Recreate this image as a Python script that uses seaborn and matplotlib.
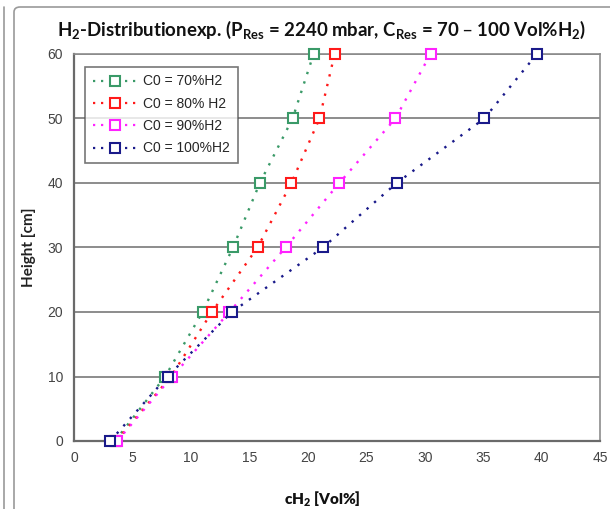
import matplotlib
matplotlib.use("Agg")
import matplotlib.pyplot as plt
import seaborn as sns
import pandas as pd
from matplotlib.patches import FancyBboxPatch
from matplotlib.lines import Line2D

height = [0, 10, 20, 30, 40, 50, 60]
c70 = [3.5, 7.8, 11.0, 13.6, 15.9, 18.7, 20.5]
c80 = [3.6, 8.3, 11.8, 15.7, 18.6, 21.0, 22.3]
c90 = [3.7, 8.4, 13.3, 18.1, 22.7, 27.5, 30.5]
c100 = [3.1, 8.0, 13.5, 21.3, 27.6, 35.1, 39.6]
labels = ["C0 = 70%H2", "C0 = 80% H2", "C0 = 90%H2", "C0 = 100%H2"]
colors = ["#3a9a68", "#ff1a1a", "#ff22ff", "#1a1a8a"]

sns.set_theme(style="white")
plt.rcParams["mathtext.default"] = "regular"

fig = plt.figure(figsize=(6.1, 5.09), dpi=100)
ax = fig.add_axes([74/610, 1-441/509, (600-74)/610, (441-54)/509])

dots = (0, (1, 3.2))
series = [c70, c80, c90, c100]
for vals, lab, col in zip(series, labels, colors):
    df = pd.DataFrame({"c": vals, "h": height})
    sns.lineplot(data=df, x="c", y="h", ax=ax, color=col, linestyle=dots,
                 linewidth=1.7, marker="s", markersize=7.5,
                 markerfacecolor="white", markeredgecolor=col,
                 markeredgewidth=1.5, label=lab, sort=False, zorder=3,
                 clip_on=False)

ax.set_xlim(0, 45)
ax.set_ylim(0, 60)
ax.set_xticks(range(0, 46, 5))
ax.set_yticks(range(0, 61, 10))
ax.yaxis.grid(True, color="#8c8c8c", linewidth=1.4)
ax.xaxis.grid(False)
ax.set_axisbelow(True)
for s in ["left", "bottom"]:
    ax.spines[s].set_color("#6a6a6a")
    ax.spines[s].set_linewidth(1.6)
for s in ["right", "top"]:
    ax.spines[s].set_color("#8c8c8c")
    ax.spines[s].set_linewidth(1.2)
ax.tick_params(axis="both", which="both", length=4, width=1.2, color="#6a6a6a",
               labelsize=10, labelcolor="#444444", direction="out")
ax.tick_params(axis="y", direction="inout", length=8, pad=4)
for t in ax.get_xticklabels() + ax.get_yticklabels():
    t.set_fontfamily("Liberation Sans")

ax.set_xlabel("cH$_2$ [Vol%]", fontsize=11, fontweight="heavy",
              fontfamily="Lato", color="#111111")
ax.xaxis.set_label_coords(0.472, -0.125)
ax.set_ylabel("Height [cm]", fontsize=11, fontweight="bold",
              fontfamily="Lato", color="#222222", labelpad=8)

fig.text(322/610, 1-30/509,
         "H$_2$-Distributionexp. (P$_{Res}$ = 2240 mbar, C$_{Res}$ = 70 – 100 Vol%H$_2$)",
         ha="center", va="center", fontsize=13.4, fontweight="bold",
         fontfamily="Lato", color="#111111")

handles = [Line2D([], [], color=c, linestyle=(0, (1, 2.6)), linewidth=1.6, marker="s",
                  markersize=6.5, markerfacecolor="white", markeredgecolor=c,
                  markeredgewidth=1.5) for c in colors]
leg = ax.legend(handles, labels, loc="upper left", bbox_to_anchor=(0.008, 0.985),
                frameon=True, fancybox=False, handlelength=3.2,
                labelspacing=0.6, borderpad=0.55, handletextpad=0.45,
                prop={"family": "Liberation Sans", "size": 10})
leg.get_frame().set_edgecolor("#555555")
leg.get_frame().set_linewidth(1.2)
leg.set_zorder(5)

# outer chart border
fig.patches.append(FancyBboxPatch((14/610, -0.05), 1.0, 1-7/509+0.05,
                                  boxstyle="round,pad=0,rounding_size=0.01",
                                  transform=fig.transFigure, fill=False,
                                  edgecolor="#9a9a9a", linewidth=1.2))
fig.lines.append(Line2D([4/610, 4/610], [0, 1-7/509], transform=fig.transFigure,
                        color="#9a9a9a", linewidth=1.2))

fig.savefig("out.png", dpi=100)
